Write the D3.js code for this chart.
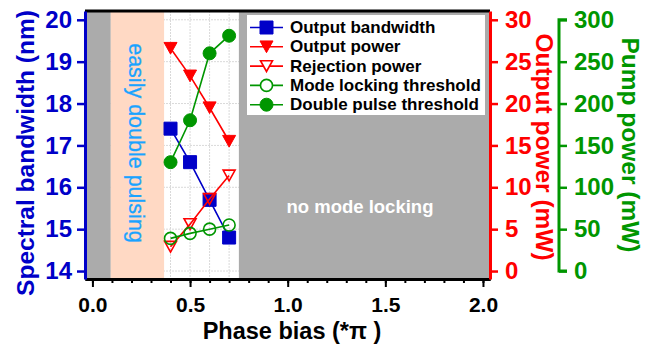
<!DOCTYPE html>
<html>
<head>
<meta charset="utf-8">
<script src="https://cdn.jsdelivr.net/npm/d3@7"></script>
<style>
  html, body { margin: 0; padding: 0; background: #fff; }
  svg text { font-family: Arial, "Liberation Sans", sans-serif; }
</style>
</head>
<body>
<svg id="chart" width="663" height="347"></svg>
<script>
// Phase bias (in units of π) at which the laser was characterised
const phaseBias = [0.4, 0.5, 0.6, 0.7];
// Spectral bandwidth (nm)
const bandwidth = [17.4, 16.6, 15.7, 14.8];
// Output power and rejected power (mW)
const outputPower = [26.6, 23.3, 19.5, 15.5];
const rejectionPower = [2.9, 5.6, 8.6, 11.4];
// Pump power thresholds (mW)
const modeLockThreshold = [39, 45, 50, 55];
const doublePulseThreshold = [130, 180, 260, 281];

// Tick values
const xMajorTicks = [0.0, 0.5, 1.0, 1.5, 2.0];
const bandwidthTicks = [14, 15, 16, 17, 18, 19, 20];
const powerTicks = [0, 5, 10, 15, 20, 25, 30];
const pumpTicks = [0, 50, 100, 150, 200, 250, 300];

// Operating regions along the phase-bias axis
const regions = [
  { from: -0.04, to: 0.094, kind: "none" },
  { from: 0.094, to: 0.367, kind: "double" },
  { from: 0.75, to: 2.04, kind: "none" }
];

const BLUE = "#0000C8", RED = "#FF0000", GREEN = "#009600";
const GRAY = "#ABABAB", PEACH = "#FFD9C4", SKY = "#1AA3FF";

const svg = d3.select("#chart");
const L = 85, R = 490, T = 11, B = 279;

const x = d3.scaleLinear().domain([-0.038, 2.036]).range([L, R]);
const yBW = d3.scaleLinear().domain([13.81, 20.21]).range([B, T]);
const yPow = d3.scaleLinear().domain([-0.95, 31.05]).range([B, T]);
const yPump = d3.scaleLinear().domain([-9.5, 310.5]).range([B, T]);

// light dotted grid
const grid = svg.append("g");
d3.range(0, 2.01, 0.1).forEach(v => {
  grid.append("line").attr("x1", x(v)).attr("x2", x(v)).attr("y1", T).attr("y2", B)
    .attr("stroke", "#d9d9d9").attr("stroke-width", 1).attr("stroke-dasharray", "2,1");
});
bandwidthTicks.forEach(v => {
  grid.append("line").attr("x1", L).attr("x2", R).attr("y1", yBW(v)).attr("y2", yBW(v))
    .attr("stroke", "#d9d9d9").attr("stroke-width", 1).attr("stroke-dasharray", "2,1");
});

// shaded regions
svg.append("g").selectAll("rect").data(regions).join("rect")
  .attr("x", d => x(Math.max(d.from, -0.038)))
  .attr("width", d => x(Math.min(d.to, 2.036)) - x(Math.max(d.from, -0.038)))
  .attr("y", T).attr("height", B - T)
  .attr("fill", d => d.kind === "none" ? GRAY : PEACH);

svg.append("text")
  .attr("transform", `translate(136,143) rotate(90)`)
  .attr("text-anchor", "middle").attr("dominant-baseline", "central")
  .attr("font-size", 21.5).attr("fill", SKY)
  .attr("stroke", SKY).attr("stroke-width", 0.3)
  .text("easily double pulsing");

svg.append("text")
  .attr("x", x(1.37)).attr("y", 213)
  .attr("text-anchor", "middle")
  .attr("font-size", 18.5).attr("font-weight", "bold").attr("fill", "#fff")
  .text("no mode locking");

// axes
const fmt1 = d3.format(".1f");
const fmt0 = d3.format("d");
const gx = svg.append("g").attr("transform", `translate(0,${B})`)
  .call(d3.axisBottom(x).tickValues(xMajorTicks).tickSize(8).tickSizeOuter(0)
    .tickPadding(10).tickFormat(fmt1));
const gxMinor = svg.append("g").attr("transform", `translate(0,${B})`)
  .call(d3.axisBottom(x).tickValues(d3.range(0, 2.01, 0.1).map(v => +v.toFixed(1)))
    .tickSize(4).tickSizeOuter(0).tickFormat(""));
[gx, gxMinor].forEach(g => {
  g.select(".domain").attr("stroke", "#000").attr("stroke-width", 3);
  g.selectAll(".tick line").attr("stroke", "#000").attr("stroke-width", 2);
});
gx.selectAll(".tick text").attr("font-size", 21).attr("font-weight", "bold").attr("fill", "#000");

// top frame line
svg.append("line").attr("x1", L).attr("x2", R).attr("y1", T).attr("y2", T)
  .attr("stroke", "#000").attr("stroke-width", 3);

function styleY(g, color) {
  g.select(".domain").attr("stroke", color).attr("stroke-width", 3);
  g.selectAll(".tick line").attr("stroke", color).attr("stroke-width", 2.5);
  g.selectAll(".tick text").attr("font-size", 24).attr("font-weight", "bold").attr("fill", color);
}

const gyL = svg.append("g").attr("transform", `translate(${L},0)`)
  .call(d3.axisLeft(yBW).tickValues(bandwidthTicks).tickSize(8).tickSizeOuter(0)
    .tickPadding(5).tickFormat(fmt0));
styleY(gyL, BLUE);

const gyR = svg.append("g").attr("transform", `translate(${R},0)`)
  .call(d3.axisRight(yPow).tickValues(powerTicks).tickSize(8).tickSizeOuter(0)
    .tickPadding(7).tickFormat(fmt0));
styleY(gyR, RED);

const gyP = svg.append("g").attr("transform", `translate(559,0)`)
  .call(d3.axisRight(yPump).tickValues(pumpTicks).tickSize(8).tickSizeOuter(0)
    .tickPadding(7).tickFormat(fmt0));
styleY(gyP, GREEN);
// pump axis line spans only the tick range
gyP.select(".domain").attr("d", `M8,${yPump(0)}H0V${yPump(300)}H8`);

// axis titles
svg.append("text")
  .attr("transform", `translate(25,153) rotate(-90)`)
  .attr("text-anchor", "middle").attr("dominant-baseline", "central")
  .attr("font-size", 24.5).attr("font-weight", "bold").attr("fill", BLUE)
  .text("Spectral bandwidth (nm)");
svg.append("text")
  .attr("transform", `translate(544,147) rotate(90)`)
  .attr("text-anchor", "middle").attr("dominant-baseline", "central")
  .attr("font-size", 24.5).attr("font-weight", "bold").attr("fill", RED)
  .text("Output power (mW)");
svg.append("text")
  .attr("transform", `translate(630,145) rotate(90)`)
  .attr("text-anchor", "middle").attr("dominant-baseline", "central")
  .attr("font-size", 24.5).attr("font-weight", "bold").attr("fill", GREEN)
  .text("Pump power (mW)");
svg.append("text")
  .attr("x", 292).attr("y", 339)
  .attr("text-anchor", "middle")
  .attr("font-size", 23.5).attr("font-weight", "bold").attr("fill", "#000")
  .text("Phase bias (*\u03C0 )");

// marker shapes
function markerPath(shape, s) {
  const h = s / 2;
  if (shape === "square") return `M${-h},${-h}H${h}V${h}H${-h}Z`;
  if (shape === "tri") return `M${-h},${-h * 0.9}H${h}L0,${h * 0.9}Z`;
  return d3.symbol(d3.symbolCircle, Math.PI * h * h)();
}

const series = [
  { name: "Output bandwidth", values: bandwidth, scale: yBW, color: BLUE, shape: "square", filled: true, size: 13 },
  { name: "Output power", values: outputPower, scale: yPow, color: RED, shape: "tri", filled: true, size: 13 },
  { name: "Rejection power", values: rejectionPower, scale: yPow, color: RED, shape: "tri", filled: false, size: 12 },
  { name: "Mode locking threshold", values: modeLockThreshold, scale: yPump, color: GREEN, shape: "circle", filled: false, size: 12 },
  { name: "Double pulse threshold", values: doublePulseThreshold, scale: yPump, color: GREEN, shape: "circle", filled: true, size: 13 }
];

const plot = svg.append("g");
series.forEach(s => {
  const pts = phaseBias.map((p, i) => [x(p), s.scale(s.values[i])]);
  plot.append("path").attr("d", d3.line()(pts))
    .attr("fill", "none").attr("stroke", s.color).attr("stroke-width", 1.6);
  plot.append("g").selectAll("path").data(pts).join("path")
    .attr("transform", d => `translate(${d[0]},${d[1]})`)
    .attr("d", markerPath(s.shape, s.size))
    .attr("fill", s.filled ? s.color : "none")
    .attr("stroke", s.color).attr("stroke-width", s.filled ? 1 : 1.6);
});

// legend
const lg = svg.append("g");
lg.append("rect").attr("x", 247).attr("y", 15).attr("width", 238).attr("height", 100).attr("fill", "#fff");
series.forEach((s, i) => {
  const cy = 27.5 + i * 19.3;
  lg.append("line").attr("x1", 250).attr("x2", 283).attr("y1", cy).attr("y2", cy)
    .attr("stroke", s.color).attr("stroke-width", 1.6);
  lg.append("path").attr("transform", `translate(266.5,${cy})`)
    .attr("d", markerPath(s.shape, s.size))
    .attr("fill", s.filled ? s.color : "#fff")
    .attr("stroke", s.color).attr("stroke-width", s.filled ? 1 : 1.6);
  lg.append("text").attr("x", 290).attr("y", cy).attr("dominant-baseline", "central")
    .attr("font-size", 17).attr("font-weight", "bold").attr("fill", "#000")
    .text(s.name);
});
</script>
</body>
</html>
